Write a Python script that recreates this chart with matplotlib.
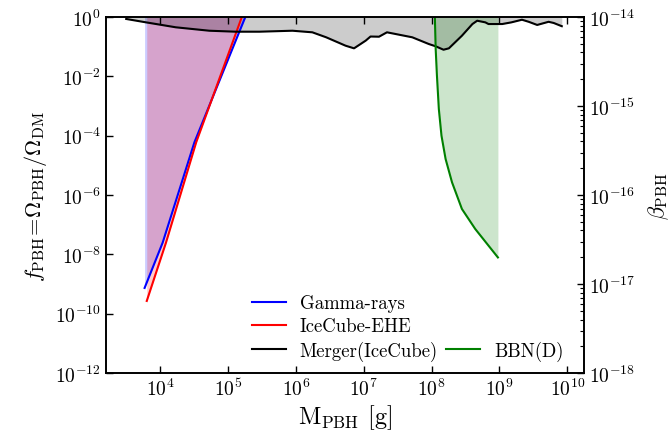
import numpy as np
import matplotlib
matplotlib.use('Agg')
import matplotlib.pyplot as plt
from matplotlib.lines import Line2D
from matplotlib.ticker import NullLocator, NullFormatter, LogLocator

plt.rcParams['font.family'] = 'cmr10'
plt.rcParams['mathtext.fontset'] = 'cm'
plt.rcParams['axes.formatter.use_mathtext'] = True

# ============================== Data ============================== #
# Gamma-rays
gamma_m = [5.9e3, 1.09e4, 3.2e4, 1.8e5, 2.2e5]
gamma_f = [7.4e-10, 2.5e-8, 6e-5, 1.0, 3.0]

# IceCube-EHE
icecube_m = [6.35e3, 1.22e4, 3.4e4, 1.6e5, 1.9e5]
icecube_f = [2.7e-10, 2.5e-8, 6e-5, 1.0, 3.0]

# Merger(IceCube)
merger_m = [3.16e3, 6.2e3, 1.7e4, 5.3e4, 1.3e5, 2.9e5, 8.9e5, 1.75e6, 2.8e6,
            5.4e6, 7.2e6, 1.07e7, 1.26e7, 1.68e7, 2.2e7, 5.2e7, 9.1e7,
            1.15e8, 1.5e8, 1.8e8, 2.8e8, 4.0e8, 4.7e8, 6.2e8, 6.9e8, 1.1e9,
            1.5e9, 2.15e9, 2.7e9, 3.6e9, 5.3e9, 6.3e9, 8.3e9]
merger_f = [0.86, 0.66, 0.45, 0.345, 0.32, 0.32, 0.345, 0.305, 0.207,
            0.108, 0.088, 0.16, 0.22, 0.217, 0.305, 0.207, 0.123,
            0.103, 0.079, 0.088, 0.234, 0.58, 0.75, 0.66, 0.58, 0.58,
            0.66, 0.81, 0.69, 0.54, 0.69, 0.63, 0.49]

# BBN(D)
bbn_m = [1.1e8, 1.12e8, 1.15e8, 1.2e8, 1.28e8, 1.40e8, 1.61e8, 2.0e8, 2.8e8,
         4.4e8, 9.5e8]
bbn_f = [2.0, 0.86, 0.083, 1.05e-2, 7.9e-4, 1e-4, 1.64e-5, 2.7e-6, 3.4e-7,
         7.2e-8, 7.9e-9]

beta_ticks = [1e-18, 1e-17, 1e-16, 1e-15, 1e-14]

# ============================== Plot ============================== #
fig = plt.figure(figsize=(6.7, 4.35), dpi=100)
ax = fig.add_axes([0.158, 0.140, 0.714, 0.8186])

ax.fill_between(gamma_m, gamma_f, 10, color='b', alpha=0.2, lw=0)
ax.fill_between(icecube_m, icecube_f, 10, color='r', alpha=0.2, lw=0)
ax.fill_between(merger_m, merger_f, 10, color='k', alpha=0.2, lw=0)
ax.fill_between(bbn_m, bbn_f, 10, color='g', alpha=0.2, lw=0)

l1, = ax.plot(gamma_m, gamma_f, color='b', lw=1.5, label='Gamma-rays')
l2, = ax.plot(icecube_m, icecube_f, color='r', lw=1.5, label='IceCube-EHE')
l3, = ax.plot(merger_m, merger_f, color='k', lw=1.5, label='Merger(IceCube)')
l4, = ax.plot(bbn_m, bbn_f, color='g', lw=1.5, label='BBN(D)')

ax.set_xscale('log')
ax.set_yscale('log')
ax.set_xlim(10**3.2, 10**10.25)
ax.set_ylim(1e-12, 1)
ax.set_yticks([1e-12, 1e-10, 1e-8, 1e-6, 1e-4, 1e-2, 1])
ax.set_xticks([1e4, 1e5, 1e6, 1e7, 1e8, 1e9, 1e10])
ax.xaxis.set_minor_locator(NullLocator())
ax.yaxis.set_minor_locator(NullLocator())
ax.tick_params(which='both', direction='in', top=True, right=False,
               labelsize=14, length=5, width=1)

ax.set_xlabel(r'$\mathrm{M_{PBH}}$ [g]', fontsize=17.5, labelpad=2)
ax.set_ylabel(r'$f_{\mathrm{PBH}}\!=\!\Omega_{\mathrm{PBH}}/\Omega_{\mathrm{DM}}$',
              fontsize=16)

blank = Line2D([], [], lw=0)
ax.legend([l1, l2, l3, blank, blank, l4],
          ['Gamma-rays', 'IceCube-EHE', 'Merger(IceCube)', '', '', 'BBN(D)'],
          ncol=2, frameon=False, fontsize=13.5, loc='lower left',
          bbox_to_anchor=(0.27, -0.013), handlelength=1.8, handletextpad=0.75,
          columnspacing=0.45, labelspacing=0.28)

ax2 = ax.twinx()
ax2.set_yscale('log')
ax2.set_ylim(1e-18, 1e-14)
ax2.set_yticks(beta_ticks)
ax2.yaxis.set_minor_locator(LogLocator(base=10, subs=np.arange(2, 10) * 1.0,
                                       numticks=10))
ax2.yaxis.set_minor_formatter(NullFormatter())
ax2.tick_params(which='major', direction='in', labelsize=14, length=5, width=1)
ax2.tick_params(which='minor', direction='in', length=3, width=0.8)
ax2.set_ylabel(r'$\beta_{\mathrm{PBH}}$', fontsize=16, rotation=90, labelpad=8)

for a in (ax, ax2):
    for s in a.spines.values():
        s.set_linewidth(1.2)

fig.savefig('out.png', dpi=100)
